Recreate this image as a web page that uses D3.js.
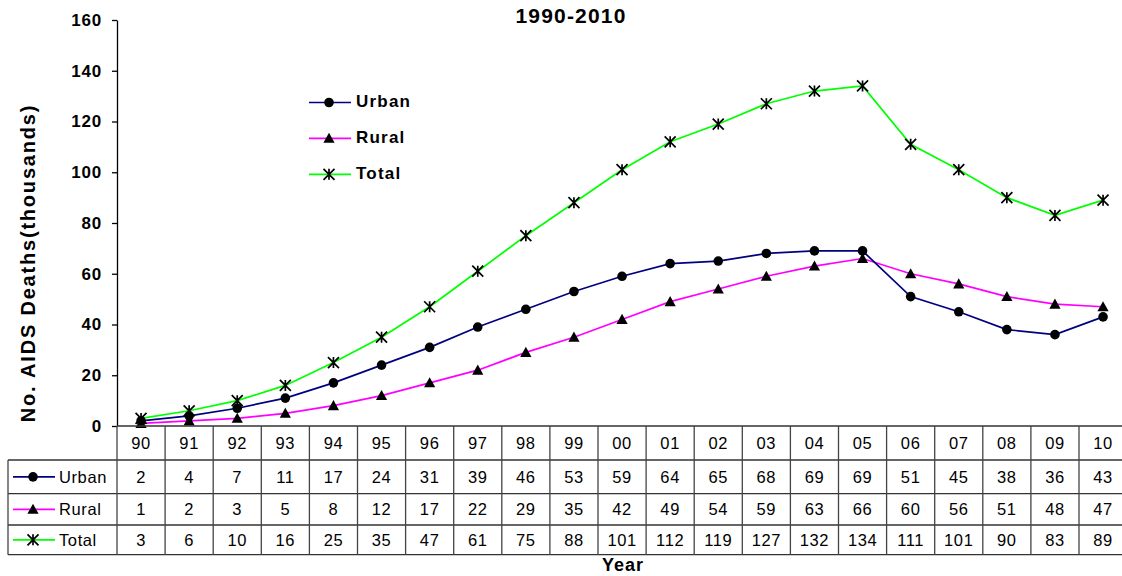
<!DOCTYPE html>
<html><head><meta charset="utf-8">
<script src="https://cdn.jsdelivr.net/npm/d3@7"></script>
<style>body{margin:0;background:#fff;} svg{display:block;font-family:"Liberation Sans",Arial,sans-serif;}</style>
</head><body>
<svg id="c" width="1122" height="576"></svg>
<script>
const years = ["90","91","92","93","94","95","96","97","98","99","00","01","02","03","04","05","06","07","08","09","10"];
const urban = [2,4,7,11,17,24,31,39,46,53,59,64,65,68,69,69,51,45,38,36,43];
const rural = [1,2,3,5,8,12,17,22,29,35,42,49,54,59,63,66,60,56,51,48,47];
const total = [3,6,10,16,25,35,47,61,75,88,101,112,119,127,132,134,111,101,90,83,89];
const yTicks = [0,20,40,60,80,100,120,140,160];
const seriesNames = ["Urban","Rural","Total"];
const colors = {Urban:"#000080", Rural:"#FF00FF", Total:"#00FF00"};
const symbols = {Urban:"circle", Rural:"triangle", Total:"star"};
const seriesData = {Urban:urban, Rural:rural, Total:total};

const svg = d3.select("#c");
const pLeft = 117, colW = 48.1, pTop = 20, pBottom = 426;
const x = d3.scaleBand().domain(years).range([pLeft, pLeft + colW*years.length]);
const y = d3.scaleLinear().domain([0,160]).range([pBottom, pTop]);

svg.append("text").attr("x",571).attr("y",23).attr("text-anchor","middle")
  .attr("font-weight","bold").attr("font-size",21).attr("letter-spacing",1.2).text("1990-2010");

const ya = svg.append("g").attr("transform",`translate(${pLeft},0)`)
  .call(d3.axisLeft(y).tickValues(yTicks).tickSize(5).tickPadding(10).tickSizeOuter(0));
ya.select(".domain").attr("stroke","#000").attr("stroke-width",1.3);
ya.selectAll(".tick line").attr("stroke","#000").attr("stroke-width",1.3);
ya.selectAll(".tick text").attr("font-size",17).attr("font-weight","bold")
  .attr("letter-spacing",0.8).attr("font-family","Liberation Sans, Arial, sans-serif").attr("fill","#000");

svg.append("text").attr("transform",`translate(35,263) rotate(-90)`)
  .attr("text-anchor","middle").attr("font-weight","bold").attr("font-size",20).attr("letter-spacing",1.8)
  .text("No. AIDS Deaths(thousands)");

function marker(g, type, cx, cy) {
  if (type === "circle") {
    g.append("circle").attr("cx",cx).attr("cy",cy).attr("r",4.8).attr("fill","#000");
  } else if (type === "triangle") {
    const h = 5.6;
    g.append("path").attr("d",`M${cx},${cy-h}L${cx+h},${cy+h*0.8}L${cx-h},${cy+h*0.8}Z`).attr("fill","#000");
  } else {
    const r = 5.5;
    g.append("path").attr("d",`M${cx-r},${cy-r}L${cx+r},${cy+r}M${cx-r},${cy+r}L${cx+r},${cy-r}M${cx},${cy-r}L${cx},${cy+r}`)
      .attr("stroke","#000").attr("stroke-width",1.7).attr("fill","none");
  }
}

const line = d3.line().x((d,i)=>x(years[i])+x.bandwidth()/2).y(d=>y(d));
seriesNames.slice().reverse().forEach(name=>{
  svg.append("path").datum(seriesData[name]).attr("d",line).attr("fill","none")
    .attr("stroke",colors[name]).attr("stroke-width",1.7);
});
seriesNames.slice().reverse().forEach(name=>{
  const g = svg.append("g");
  seriesData[name].forEach((v,i)=>marker(g, symbols[name], x(years[i])+x.bandwidth()/2, y(v)));
});

const legY = [102.5,138.3,174.3];
seriesNames.forEach((name,i)=>{
  const g = svg.append("g");
  g.append("line").attr("x1",309).attr("x2",351).attr("y1",legY[i]).attr("y2",legY[i])
    .attr("stroke",colors[name]).attr("stroke-width",1.7);
  marker(g, symbols[name], 329, legY[i]);
  g.append("text").attr("x",356).attr("y",legY[i]+4.5).attr("font-weight","bold").attr("font-size",17)
    .attr("letter-spacing",1.2).text(name);
});

const rowY = [426, 460, 493.7, 525, 554.7];
const tblRight = pLeft + colW*years.length;
const tg = svg.append("g");
years.forEach(yr=>{
  tg.append("text").attr("x",x(yr)+x.bandwidth()/2).attr("y",449)
    .attr("text-anchor","middle").attr("font-size",16.5).attr("letter-spacing",0.6).text(yr);
});
seriesNames.forEach((name,r)=>{
  const cy = (rowY[r+1]+rowY[r+2])/2;
  seriesData[name].forEach((v,i)=>{
    tg.append("text").attr("x",x(years[i])+x.bandwidth()/2).attr("y",cy+6)
      .attr("text-anchor","middle").attr("font-size",16.5).attr("letter-spacing",0.6).text(v);
  });
  tg.append("line").attr("x1",13).attr("x2",55).attr("y1",cy).attr("y2",cy)
    .attr("stroke",colors[name]).attr("stroke-width",1.7);
  marker(tg, symbols[name], 33, cy);
  tg.append("text").attr("x",59).attr("y",cy+6).attr("font-size",16.5).attr("letter-spacing",0.6).text(name);
});
tg.append("line").attr("x1",pLeft).attr("x2",tblRight).attr("y1",rowY[0]).attr("y2",rowY[0]).attr("stroke","#333").attr("stroke-width",1.5);
[1,2,3,4].forEach(k=>{
  tg.append("line").attr("x1",8).attr("x2",tblRight).attr("y1",rowY[k]).attr("y2",rowY[k]).attr("stroke","#333").attr("stroke-width",1.3);
});
years.forEach(yr=>{
  tg.append("line").attr("x1",x(yr)).attr("x2",x(yr)).attr("y1",rowY[0]).attr("y2",rowY[4]).attr("stroke","#444").attr("stroke-width",1.3);
});
tg.append("line").attr("x1",tblRight).attr("x2",tblRight).attr("y1",rowY[0]).attr("y2",rowY[4]).attr("stroke","#444").attr("stroke-width",1.3);
tg.append("line").attr("x1",8).attr("x2",8).attr("y1",rowY[1]).attr("y2",rowY[4]).attr("stroke","#444").attr("stroke-width",1.3);

svg.append("text").attr("x",623).attr("y",571).attr("text-anchor","middle")
  .attr("font-weight","bold").attr("font-size",18).attr("letter-spacing",1).text("Year");
</script>
</body></html>
